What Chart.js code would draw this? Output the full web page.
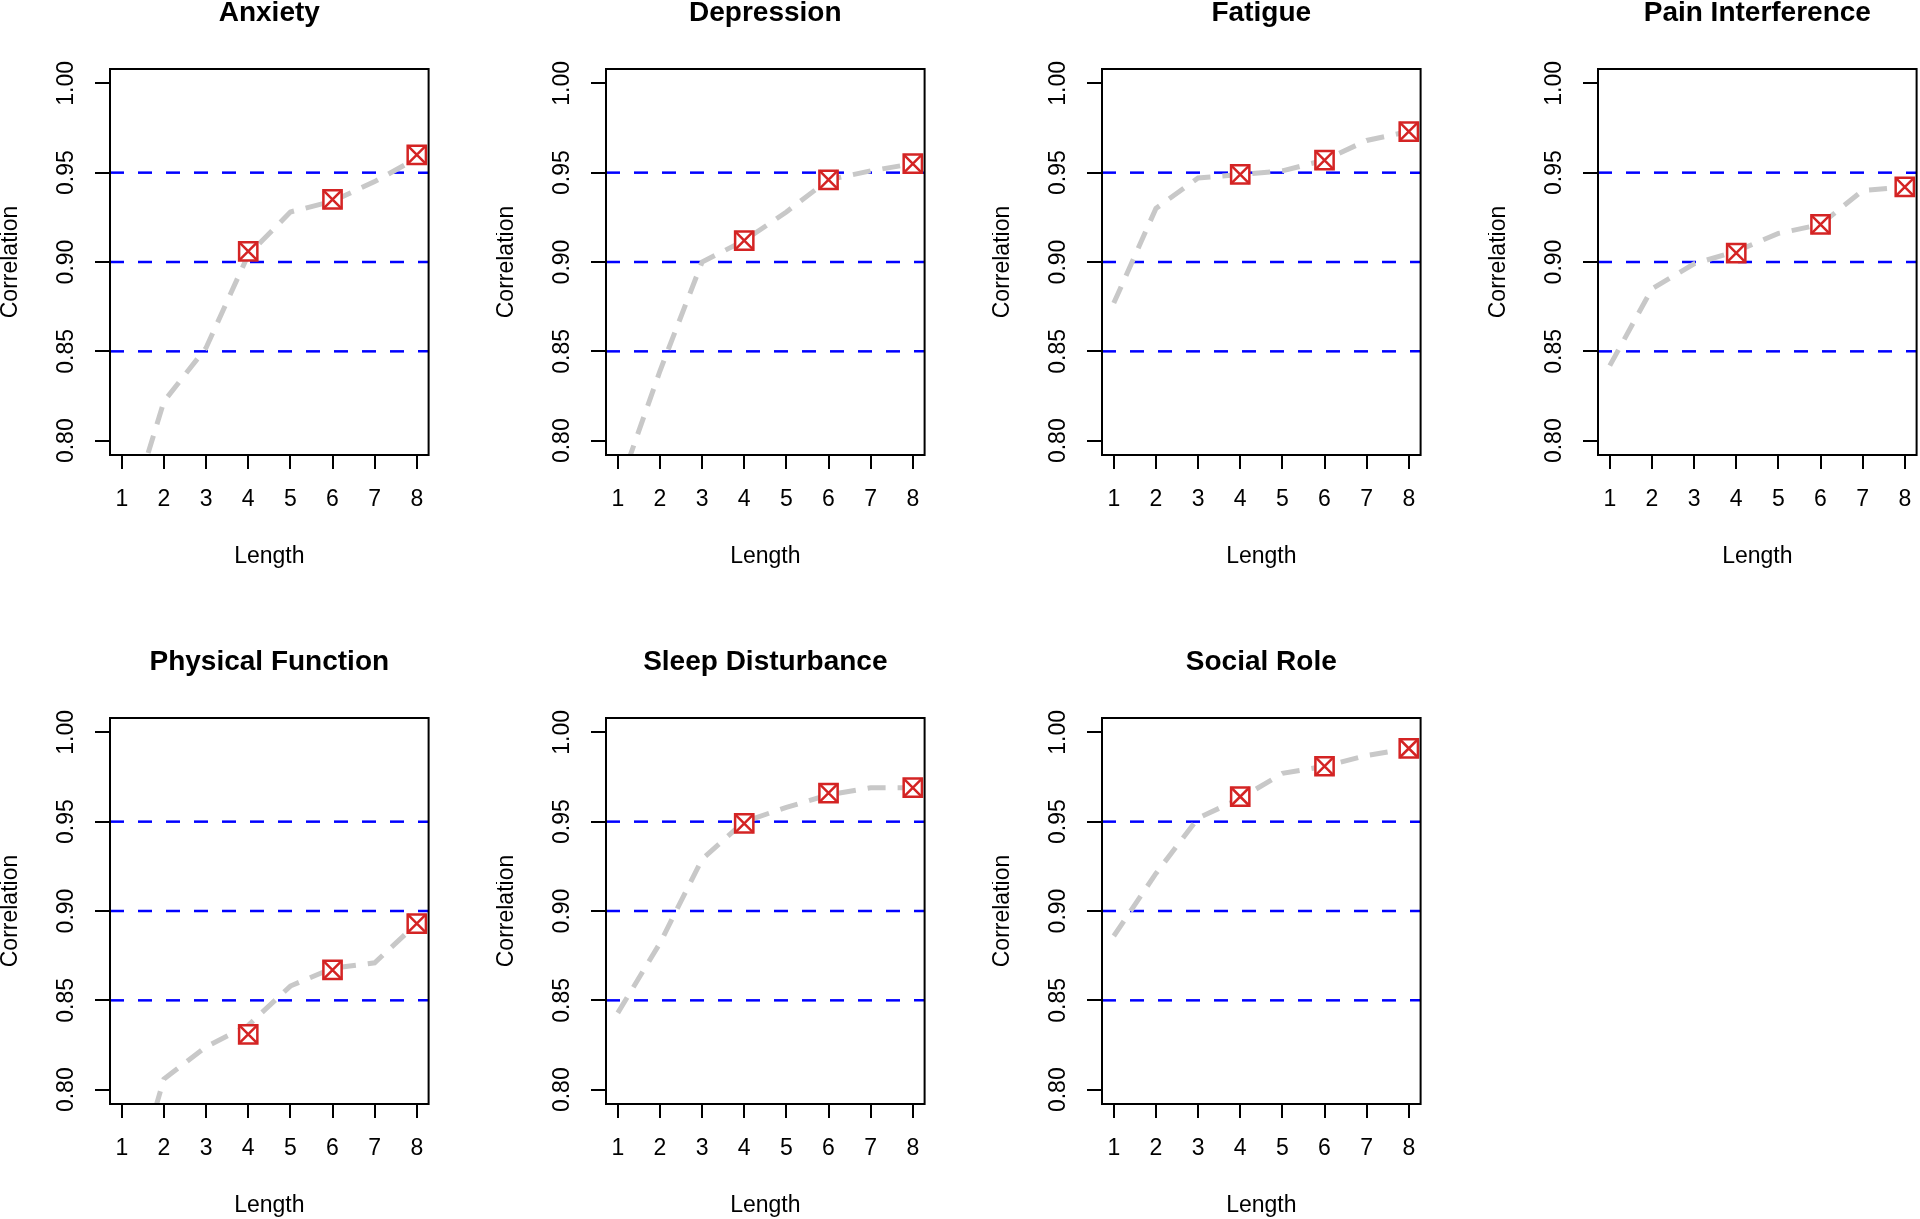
<!DOCTYPE html>
<html>
<head>
<meta charset="utf-8">
<script src="https://cdn.jsdelivr.net/npm/chart.js@4.4.0/dist/chart.umd.min.js"></script>
<style>
  html, body { margin: 0; padding: 0; background: #fff; overflow: hidden; width: 1920px; height: 1219px; }
  canvas { position: absolute; }
</style>
</head>
<body>
<script>
// data
var panelTitles = ["Anxiety", "Depression", "Fatigue", "Pain Interference", "Physical Function", "Sleep Disturbance", "Social Role"];
var lengths = [1, 2, 3, 4, 5, 6, 7, 8];
var markerLengths = [4, 6, 8];
var refLines = [0.85, 0.90, 0.95];
var xTickValues = [1, 2, 3, 4, 5, 6, 7, 8];
var yTickValues = [0.80, 0.85, 0.90, 0.95, 1.00];

var anxietyCurve = [0.745, 0.822, 0.852, 0.904, 0.928, 0.934, 0.945, 0.958];
var anxietyMarks = [0.906, 0.935, 0.960];
var depressionCurve = [0.772, 0.839, 0.900, 0.912, 0.928, 0.946, 0.951, 0.955];
var depressionMarks = [0.912, 0.946, 0.955];
var fatigueCurve = [0.877, 0.930, 0.947, 0.949, 0.951, 0.957, 0.968, 0.973];
var fatigueMarks = [0.949, 0.957, 0.973];
var painCurve = [0.842, 0.885, 0.899, 0.906, 0.916, 0.921, 0.940, 0.942];
var painMarks = [0.905, 0.921, 0.942];
var physicalCurve = [0.725, 0.806, 0.824, 0.836, 0.858, 0.868, 0.871, 0.893];
var physicalMarks = [0.831, 0.867, 0.893];
var sleepCurve = [0.843, 0.882, 0.929, 0.950, 0.958, 0.965, 0.969, 0.969];
var sleepMarks = [0.949, 0.966, 0.969];
var socialCurve = [0.886, 0.921, 0.952, 0.963, 0.977, 0.981, 0.987, 0.991];
var socialMarks = [0.964, 0.981, 0.991];

var curves = [anxietyCurve, depressionCurve, fatigueCurve, painCurve, physicalCurve, sleepCurve, socialCurve];
var marks = [anxietyMarks, depressionMarks, fatigueMarks, painMarks, physicalMarks, sleepMarks, socialMarks];

// axis limits like R's default 4% extension
var xMin = 0.72, xMax = 8.28;
var yMin = 0.792, yMax = 1.008;

Chart.defaults.font.family = "'Liberation Sans', Arial, Helvetica, sans-serif";
Chart.defaults.color = "#000";

// frame around the plot region
var boxPlugin = {
  id: "box",
  afterDraw: function(chart) {
    var a = chart.chartArea, ctx = chart.ctx;
    ctx.save();
    ctx.strokeStyle = "#000";
    ctx.lineWidth = 2;
    ctx.strokeRect(a.left, a.top, a.right - a.left, a.bottom - a.top);
    ctx.restore();
  }
};

var red = "#d42424";

function makePanel(i) {
  var col = i % 4, row = Math.floor(i / 4);
  var cv = document.createElement("canvas");
  cv.width = 444;
  cv.height = 570;
  cv.style.left = (col * 496) + "px";
  cv.style.top = (row * 649) + "px";
  document.body.appendChild(cv);

  var datasets = [];
  refLines.forEach(function(h) {
    datasets.push({
      data: [{x: xMin, y: h}, {x: xMax, y: h}],
      showLine: true, borderColor: "#0000ff", borderWidth: 2.5, borderDash: [14, 14],
      pointRadius: 0, order: 3, clip: 0
    });
  });
  datasets.push({
    data: lengths.map(function(x, k) { return {x: x, y: curves[i][k]}; }),
    showLine: true, borderColor: "#c8c8c8", borderWidth: 5, borderDash: [18, 12],
    pointRadius: 0, order: 2, clip: 0
  });
  datasets.push({
    data: markerLengths.map(function(x, k) { return {x: x, y: marks[i][k]}; }),
    pointStyle: "rect", pointRadius: 12.9, backgroundColor: "#fff", borderColor: red, borderWidth: 2.5,
    order: 1, clip: false
  });
  datasets.push({
    data: markerLengths.map(function(x, k) { return {x: x, y: marks[i][k]}; }),
    pointStyle: "crossRot", pointRadius: 12.9, borderColor: red, borderWidth: 2.5,
    order: 0, clip: false
  });

  new Chart(cv, {
    type: "scatter",
    data: {datasets: datasets},
    plugins: [boxPlugin],
    options: {
      responsive: false,
      animation: false,
      events: [],
      layout: {padding: {left: 0, right: 11, top: 0, bottom: 0}},
      plugins: {
        legend: {display: false},
        tooltip: {enabled: false},
        title: {
          display: true, text: panelTitles[i], fullSize: false, color: "#000",
          font: {size: 28, weight: "bold", lineHeight: 0.8},
          padding: {top: 1.8, bottom: 44.8}
        }
      },
      scales: {
        x: {
          type: "linear", min: xMin, max: xMax,
          afterBuildTicks: function(s) { s.ticks = xTickValues.map(function(v) { return {value: v}; }); },
          afterFit: function(s) { s.height = 115; s.paddingLeft = 0; s.paddingRight = 0; },
          ticks: {autoSkip: false, minRotation: 0, maxRotation: 0, padding: 17, font: {size: 23}, color: "#000",
                  callback: function(v) { return String(v); }},
          grid: {drawOnChartArea: false, drawTicks: true, tickLength: 14, color: "#000", lineWidth: 2},
          border: {display: false},
          title: {display: true, text: "Length", color: "#000", font: {size: 23}, padding: {top: 0, bottom: 0}}
        },
        y: {
          type: "linear", min: yMin, max: yMax,
          afterBuildTicks: function(s) { s.ticks = yTickValues.map(function(v) { return {value: v}; }); },
          afterFit: function(s) { s.width = 110; s.paddingTop = 0; s.paddingBottom = 0; },
          ticks: {autoSkip: false, minRotation: 90, maxRotation: 90, crossAlign: "center", padding: 6,
                  font: {size: 23}, color: "#000",
                  callback: function(v) { return v.toFixed(2); }},
          grid: {drawOnChartArea: false, drawTicks: true, tickLength: 15, color: "#000", lineWidth: 2},
          border: {display: false},
          title: {display: true, text: "Correlation", color: "#000", font: {size: 23, lineHeight: 0.9}, padding: {top: 0, bottom: 0}}
        }
      }
    }
  });
}

for (var i = 0; i < panelTitles.length; i++) makePanel(i);
</script>
</body>
</html>
